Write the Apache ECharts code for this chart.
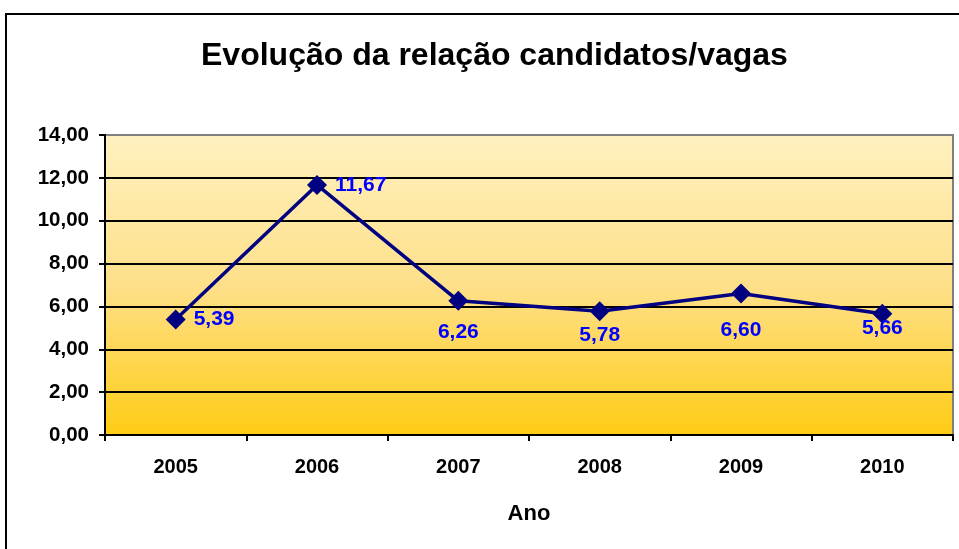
<!DOCTYPE html>
<html>
<head>
<meta charset="utf-8">
<script src="https://cdn.jsdelivr.net/npm/echarts@6/dist/echarts.min.js"></script>
<style>
html,body{margin:0;padding:0;background:#fff;}
#chart{width:959px;height:549px;}
</style>
</head>
<body>
<div id="chart"></div>
<script>
// dados do gráfico
var anos = ["2005", "2006", "2007", "2008", "2009", "2010"];
var relacao = [5.39, 11.67, 6.26, 5.78, 6.60, 5.66];

// posição dos rótulos de cada ponto
var posRotulo = ["right", "right", "bottom", "bottom", "bottom", "bottom"];
var distRotulo = [8, 8, 11, 4, 16, -6];

function virgula(v){
    return v.toFixed(2).replace(".", ",");
}

var pontos = [];
for(var i=0;i<relacao.length;i++){
    pontos.push({
        value: relacao[i],
        label: {position: posRotulo[i], distance: distRotulo[i]}
    });
}

var fonte = 'Liberation Sans, Arial';
var chart = echarts.init(document.getElementById('chart'));
var option = {
    animation: false,
    title: {
        text: 'Evolução da relação candidatos/vagas',
        left: 196,
        top: 35,
        textStyle: {fontFamily: fonte, fontSize: 32, fontWeight: 'bold', color: '#000'}
    },
    grid: {
        left: 105, right: 6, top: 135, bottom: 114,
        show: true,
        borderColor: '#808080',
        borderWidth: 2,
        backgroundColor: {
            type: 'linear', x: 0, y: 0, x2: 0, y2: 1,
            colorStops: [
                {offset: 0, color: '#fff1c0'},
                {offset: 0.5, color: '#fee08a'},
                {offset: 1, color: '#ffcc14'}
            ]
        }
    },
    graphic: [{
        type: 'rect',
        shape: {x: 6, y: 14, width: 1000, height: 600},
        style: {fill: null, stroke: '#000', lineWidth: 2},
        silent: true
    }],
    xAxis: {
        type: 'category',
        data: anos,
        boundaryGap: true,
        name: 'Ano',
        nameLocation: 'middle',
        nameGap: 68,
        nameTextStyle: {fontFamily: fonte, fontSize: 22, fontWeight: 'bold', color: '#000'},
        axisLine: {lineStyle: {color: '#000', width: 2}},
        axisTick: {show: true, length: 6, lineStyle: {color: '#000', width: 2}},
        axisLabel: {margin: 22, fontFamily: fonte, fontSize: 20, fontWeight: 'bold', color: '#000'},
        splitLine: {show: false}
    },
    yAxis: {
        type: 'value',
        min: 0,
        max: 14,
        interval: 2,
        axisLine: {show: true, lineStyle: {color: '#000', width: 2}},
        axisTick: {show: true, length: 6, lineStyle: {color: '#000', width: 2}},
        axisLabel: {margin: 16, fontFamily: fonte, fontSize: 20.5, fontWeight: 'bold', color: '#000',
            formatter: function(v){ return virgula(v); }},
        splitLine: {showMaxLine: false, lineStyle: {color: '#000', width: 2}}
    },
    series: [{
        type: 'line',
        data: pontos,
        symbol: 'diamond',
        symbolSize: 20,
        itemStyle: {color: '#000080'},
        lineStyle: {color: '#000080', width: 3.5},
        label: {
            show: true,
            fontFamily: fonte,
            fontSize: 21,
            fontWeight: 'bold',
            color: '#0000ff',
            formatter: function(p){ return virgula(p.value); }
        },
        z: 5
    }]
};
chart.setOption(option);
</script>
</body>
</html>
